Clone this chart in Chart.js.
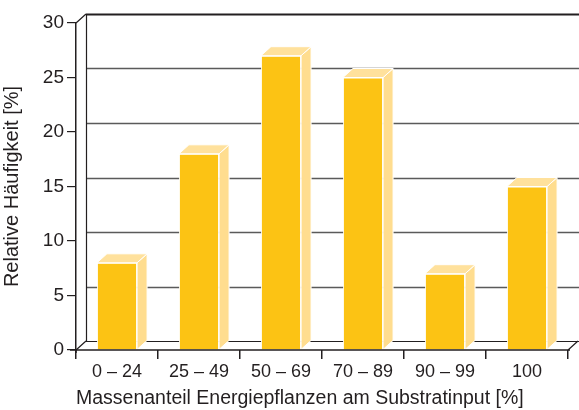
<!DOCTYPE html>
<html>
<head>
<meta charset="utf-8">
<script src="https://cdn.jsdelivr.net/npm/chart.js@4"></script>
<style>
  html, body { margin: 0; padding: 0; background: #fff; }
  #wrap { width: 579px; height: 410px; }
</style>
</head>
<body>
<div id="wrap"><canvas id="c" width="579" height="410"></canvas></div>
<script>
// Share of energy crops in substrate input (classes) and relative frequency
const categories = ['0 – 24', '25 – 49', '50 – 69', '70 – 89', '90 – 99', '100'];
const frequency = [8, 18, 27, 25, 7, 15];
const yTicks = [0, 5, 10, 15, 20, 25, 30];

const FONT = '"Liberation Sans Narrow", "Liberation Sans", Arial, sans-serif';
const INK = '#231f20';
const FRONT = '#fcc314';
const SIDE = '#ffdd8f';
const TOP = '#ffe19c';
const DX = 10, DY = -9;   // depth offset of the pseudo-3D effect

// Back wall, floor and grid drawn behind the bars
const wallPlugin = {
  id: 'wall',
  beforeDatasetsDraw(chart) {
    const { ctx, chartArea: a, scales: { y } } = chart;
    ctx.save();
    ctx.lineCap = 'butt';
    // gridlines on the back wall
    yTicks.forEach(v => {
      const py = Math.round(y.getPixelForValue(v) + DY) + 0.5;
      ctx.beginPath();
      ctx.moveTo(a.left + DX, py);
      ctx.lineTo(chart.width, py);
      if (v === 30) { ctx.strokeStyle = INK; ctx.lineWidth = 2; }
      else if (v === 0) { ctx.strokeStyle = INK; ctx.lineWidth = 1.2; }
      else { ctx.strokeStyle = '#5a5a5a'; ctx.lineWidth = 1.5; }
      ctx.stroke();
    });
    const yTop = y.getPixelForValue(30), yBot = y.getPixelForValue(0);
    ctx.strokeStyle = INK;
    ctx.lineWidth = 1.2;
    // back wall left edge
    ctx.beginPath();
    ctx.moveTo(a.left + DX + 0.5, yTop + DY);
    ctx.lineTo(a.left + DX + 0.5, yBot + DY);
    ctx.stroke();
    // depth edges
    ctx.beginPath();
    ctx.moveTo(a.left, yTop); ctx.lineTo(a.left + DX, yTop + DY);
    ctx.moveTo(a.left, yBot); ctx.lineTo(a.left + DX, yBot + DY);
    ctx.moveTo(a.right, yBot); ctx.lineTo(a.right + DX, yBot + DY);
    ctx.stroke();
    ctx.restore();
  },
  afterDatasetsDraw(chart) {
    const { ctx } = chart;
    const meta = chart.getDatasetMeta(0);
    ctx.save();
    ctx.strokeStyle = '#ffffff';
    ctx.lineWidth = 1;
    ctx.lineJoin = 'miter';
    meta.data.forEach(bar => {
      const { x, y, base, width } = bar.getProps(['x', 'y', 'base', 'width'], true);
      const l = x - width / 2, r = x + width / 2;
      // side face
      ctx.beginPath();
      ctx.moveTo(r, y);
      ctx.lineTo(r + DX, y + DY);
      ctx.lineTo(r + DX, base + DY);
      ctx.lineTo(r, base);
      ctx.closePath();
      ctx.fillStyle = SIDE;
      ctx.fill();
      ctx.stroke();
      // top face
      ctx.beginPath();
      ctx.moveTo(l, y);
      ctx.lineTo(l + DX, y + DY);
      ctx.lineTo(r + DX, y + DY);
      ctx.lineTo(r, y);
      ctx.closePath();
      ctx.fillStyle = TOP;
      ctx.fill();
      ctx.stroke();
    });
    // front floor line over the bar bases
    const a = chart.chartArea;
    ctx.strokeStyle = INK;
    ctx.lineWidth = 1.5;
    ctx.beginPath();
    ctx.moveTo(a.left - 6, a.bottom);
    ctx.lineTo(a.right + 2, a.bottom);
    ctx.moveTo(a.left, a.bottom);
    ctx.lineTo(a.left, a.bottom + 3);
    ctx.stroke();
    ctx.restore();
  }
};

new Chart(document.getElementById('c'), {
  type: 'bar',
  data: {
    labels: categories,
    datasets: [{
      data: frequency,
      backgroundColor: FRONT,
      borderColor: '#ffffff',
      borderWidth: 1,
      borderSkipped: 'bottom',
      categoryPercentage: 1,
      barPercentage: 0.49
    }]
  },
  options: {
    responsive: false,
    animation: false,
    events: [],
    layout: { padding: { top: 23, right: 11, left: 0, bottom: 0 } },
    plugins: { legend: { display: false }, tooltip: { enabled: false } },
    scales: {
      x: {
        afterFit(s) { s.height = 60; },
        grid: { drawOnChartArea: false, drawTicks: true, tickLength: 9, color: INK, lineWidth: 1.5 },
        border: { display: false },
        ticks: { color: INK, font: { family: FONT, size: 18 }, padding: 2, maxRotation: 0 },
        title: { display: true, align: 'start', text: 'Massenanteil Energiepflanzen am Substratinput [%]', color: INK, font: { family: FONT, size: 19.5 }, padding: { top: 0, bottom: 0 } }
      },
      y: {
        min: 0, max: 30,
        afterFit(s) { s.width = 76; },
        afterBuildTicks(s) { s.ticks = yTicks.map(v => ({ value: v })); },
        grid: { drawOnChartArea: false, drawTicks: true, tickLength: 9, color: INK, lineWidth: 1.2 },
        border: { display: true, color: INK, width: 1.5 },
        ticks: { color: INK, font: { family: FONT, size: 19 }, padding: 3 },
        title: { display: true, text: 'Relative Häufigkeit [%]', color: INK, font: { family: FONT, size: 20 }, padding: { top: 0, bottom: 0 } }
      }
    }
  },
  plugins: [wallPlugin]
});
</script>
</body>
</html>
